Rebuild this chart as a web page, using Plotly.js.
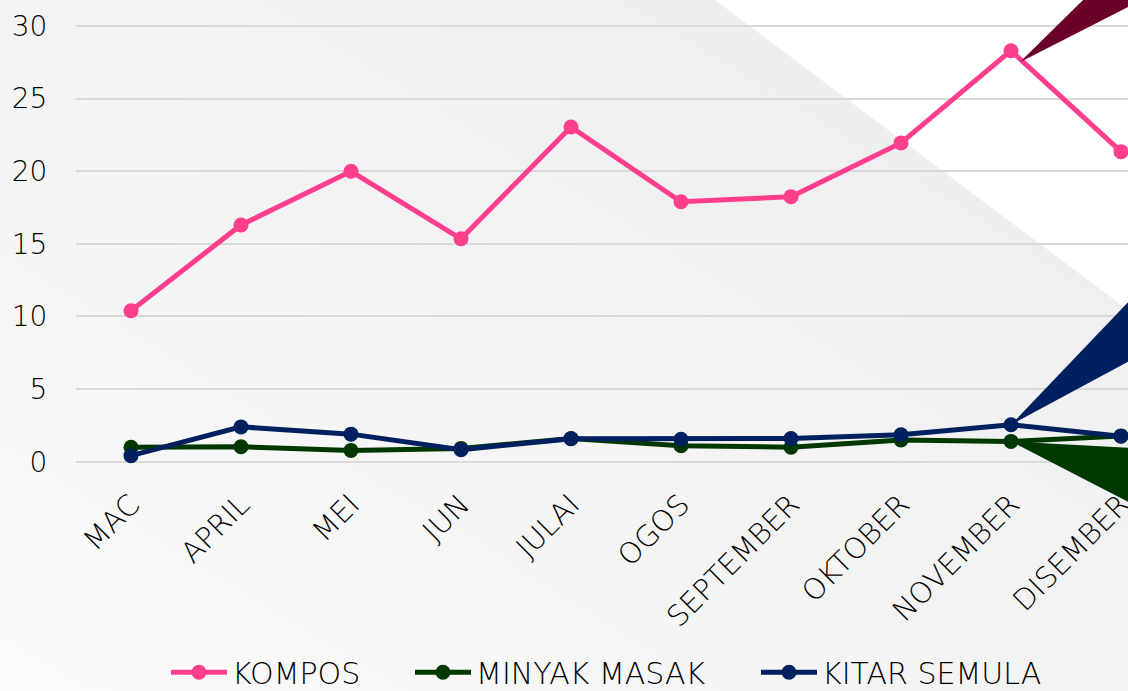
<!DOCTYPE html>
<html>
<head>
<meta charset="utf-8">
<script src="https://cdn.plot.ly/plotly-3.0.1.min.js"></script>
<style>
  html, body { margin:0; padding:0; width:1128px; height:691px; overflow:hidden; }
  #bg { position:absolute; left:0; top:0; width:1128px; height:691px;
        background: linear-gradient(to top right, #fbfbfb 0%, #f3f3f3 50%, #ececec 100%); }
  #tri { position:absolute; left:0; top:0; width:1128px; height:691px; background:#ffffff;
         clip-path: polygon(715px 0px, 1128px 0px, 1128px 310px); }
  #chart { position:absolute; left:0; top:0; width:1128px; height:691px; }
</style>
</head>
<body>
<div id="bg"></div>
<div id="tri"></div>
<div id="chart"></div>
<script>
// ---- data ----
const months = ["MAC","APRIL","MEI","JUN","JULAI","OGOS","SEPTEMBER","OKTOBER","NOVEMBER","DISEMBER"];
const kompos = [10.4, 16.3, 20.0, 15.35, 23.05, 17.9, 18.25, 21.95, 28.3, 21.35];
const minyakMasak = [1.0, 1.03, 0.78, 0.92, 1.6, 1.1, 1.0, 1.5, 1.4, 1.78];
const kitarSemula = [0.42, 2.4, 1.9, 0.83, 1.58, 1.55, 1.6, 1.86, 2.55, 1.75];
const seriesNames = ["KOMPOS", "MINYAK MASAK", "KITAR SEMULA"];
const yTicks = [0, 5, 10, 15, 20, 25, 30];

const colors = ["#FF3F8C", "#003800", "#002060"];
const calloutColors = ["#6B0029", "#002060", "#003800"];

const idx = months.map((m, i) => i);
const xr = [-0.5, 9.0636];
const yr = [-0.5, 31.79];

function mk(name, y, c, lg) {
  return {
    type: "scatter", mode: "lines+markers", name: name, legend: lg,
    x: idx, y: y, cliponaxis: false,
    line: {color: c, width: 5},
    marker: {color: c, size: 15}
  };
}
const traces = [
  mk(seriesNames[0], kompos, colors[0], "legend"),
  mk(seriesNames[1], minyakMasak, colors[1], "legend2"),
  mk(seriesNames[2], kitarSemula, colors[2], "legend3")
];

// data -> paper fraction helpers (for callout wedges which overflow the plot area)
const px = v => (v - xr[0]) / (xr[1] - xr[0]);
const py = v => (v - yr[0]) / (yr[1] - yr[0]);
function wedge(ax, ay, pts, color) {
  let d = "M" + px(ax + pts[0][0]) + "," + py(ay + pts[0][1]);
  for (let k = 1; k < pts.length; k++) d += " L" + px(ax + pts[k][0]) + "," + py(ay + pts[k][1]);
  d += " Z";
  return {type: "path", xref: "paper", yref: "paper", path: d,
          fillcolor: color, line: {width: 0}, layer: "above"};
}
const n = 8; // callouts are anchored on NOVEMBER points
const shapes = [
  wedge(n, kompos[n], [[0.08, -0.8], [1.818, 12.16], [3.045, 10.7]], calloutColors[0]),
  wedge(n, kitarSemula[n], [[0, 0], [1.718, 13.61], [1.718, 7.01]], calloutColors[1]),
  wedge(n, minyakMasak[n], [[0, 0], [1.718, -0.71], [1.718, -6.7]], calloutColors[2])
];

const font = "DejaVu Sans, Lato, sans-serif";
const plotW = 1052;
function legendAt(leftPx) {
  return {
    orientation: "h", x: (leftPx - 76) / plotW, xanchor: "left", y: -0.378, yanchor: "top",
    font: {family: font, size: 30, color: "#000", weight: 300},
    itemwidth: 56, bgcolor: "rgba(0,0,0,0)"
  };
}
const layout = {
  width: 1128, height: 691,
  margin: {l: 76, r: 0, t: 0, b: 221.7, pad: 0, autoexpand: false},
  paper_bgcolor: "rgba(0,0,0,0)",
  plot_bgcolor: "rgba(0,0,0,0)",
  showlegend: true,
  font: {family: font, color: "#000000", size: 28},
  xaxis: {
    range: xr, tickmode: "array", tickvals: idx, ticktext: months,
    tickangle: -45, showgrid: false, zeroline: false, showline: false,
    automargin: false, ticklabeloverflow: "allow",
    ticks: "outside", ticklen: 6, tickcolor: "rgba(0,0,0,0)",
    tickfont: {family: font, size: 29, color: "#000", weight: 300}
  },
  yaxis: {
    range: yr, tickmode: "array", tickvals: yTicks,
    showgrid: true, gridcolor: "#d9d9d9", gridwidth: 2,
    zeroline: false, showline: false, automargin: false,
    ticks: "outside", ticklen: 22, tickcolor: "rgba(0,0,0,0)",
    tickfont: {family: font, size: 28, color: "#000", weight: 300}
  },
  legend: legendAt(166),
  legend2: legendAt(410),
  legend3: legendAt(756),
  shapes: shapes
};
Plotly.newPlot("chart", traces, layout, {displayModeBar: false, staticPlot: true});
</script>
</body>
</html>
